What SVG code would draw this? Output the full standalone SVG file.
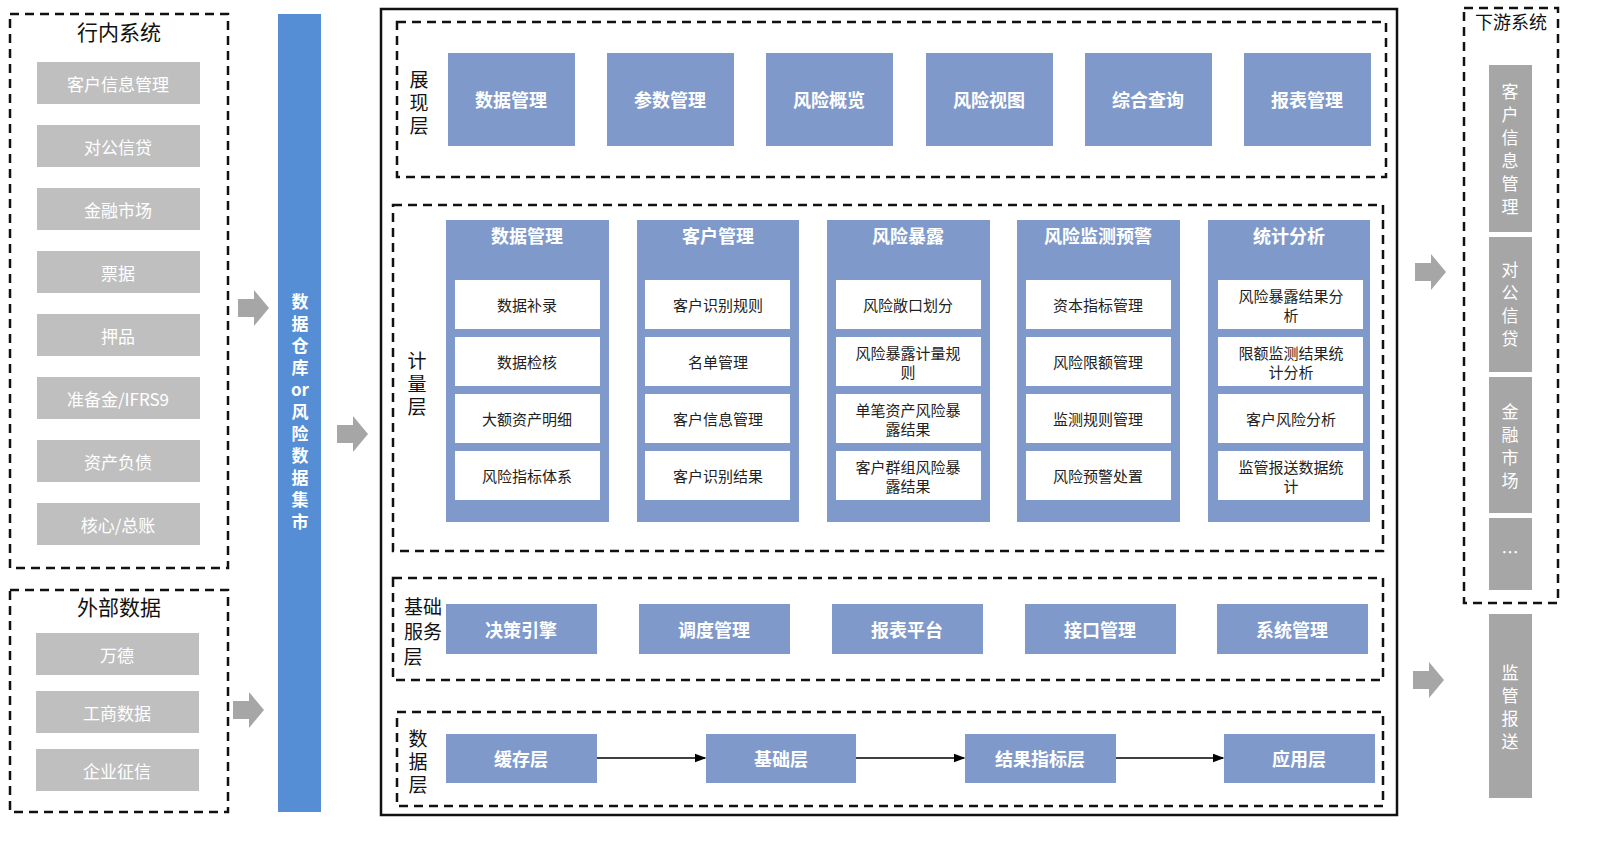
<svg xmlns="http://www.w3.org/2000/svg" width="1600" height="842" viewBox="0 0 1600 842">
<style>
text{font-family:"Noto Sans CJK SC","Liberation Sans",sans-serif;}
.dash{fill:none;stroke:#111;stroke-width:2.5;stroke-dasharray:9,6}
.g{fill:#bfbfbf}
.g2{fill:#a6a6a6}
.b{fill:#7f9aca}
.w{fill:#fff}
.wt{fill:#fff;font-size:17px;text-anchor:middle;dominant-baseline:central}
.vt{fill:#fff;font-size:17px;text-anchor:middle;dominant-baseline:central}
.bt{fill:#fff;font-size:18px;font-weight:bold;text-anchor:middle;dominant-baseline:central}
.kt{fill:#222;font-size:15px;text-anchor:middle;dominant-baseline:central}
.lt{fill:#111;font-size:21px;text-anchor:middle;dominant-baseline:central}
.ll{fill:#111;font-size:19px;text-anchor:middle;dominant-baseline:central}
.arr{fill:#a6a6a6}
</style>
<defs>
<marker id="ah" markerWidth="8" markerHeight="8" refX="7" refY="4" orient="auto"><path d="M0,1 L8,4 L0,7z" fill="#000"/></marker>
<path id="fat" d="M0,-9 H16 V-18 L31,0 L16,18 V9 H0z"/>
</defs>
<rect width="1600" height="842" fill="#fff"/>
<g id="internal">
<rect class="dash" x="10" y="14" width="218" height="554"/>
<text class="lt" x="119" y="31">行内系统</text>
<rect class="g" x="37" y="62" width="163" height="42"/><text class="wt" x="118" y="83">客户信息管理</text>
<rect class="g" x="37" y="125" width="163" height="42"/><text class="wt" x="118" y="146">对公信贷</text>
<rect class="g" x="37" y="188" width="163" height="42"/><text class="wt" x="118" y="209">金融市场</text>
<rect class="g" x="37" y="251" width="163" height="42"/><text class="wt" x="118" y="272">票据</text>
<rect class="g" x="37" y="314" width="163" height="42"/><text class="wt" x="118" y="335">押品</text>
<rect class="g" x="37" y="377" width="163" height="42"/><text class="wt" x="118" y="398">准备金/IFRS9</text>
<rect class="g" x="37" y="440" width="163" height="42"/><text class="wt" x="118" y="461">资产负债</text>
<rect class="g" x="37" y="503" width="163" height="42"/><text class="wt" x="118" y="524">核心/总账</text>
</g>
<g id="external">
<rect class="dash" x="10" y="590" width="218" height="222"/>
<text class="lt" x="119" y="606">外部数据</text>
<rect class="g" x="36" y="633" width="163" height="42"/><text class="wt" x="117" y="654">万德</text>
<rect class="g" x="36" y="691" width="163" height="42"/><text class="wt" x="117" y="712">工商数据</text>
<rect class="g" x="36" y="749" width="163" height="42"/><text class="wt" x="117" y="770">企业征信</text>
</g>
<g id="warehouse">
<rect x="278" y="14" width="43" height="798" fill="#558ed5"/>
<g class="bt" style="font-size:17px">
<text x="300" y="300">数</text><text x="300" y="322">据</text><text x="300" y="344">仓</text><text x="300" y="366">库</text><text x="300" y="388">or</text><text x="300" y="410">风</text><text x="300" y="432">险</text><text x="300" y="454">数</text><text x="300" y="476">据</text><text x="300" y="498">集</text><text x="300" y="520">市</text>
</g>
</g>
<g id="fatarrows" class="arr">
<use href="#fat" x="238" y="308"/>
<use href="#fat" x="233" y="710"/>
<use href="#fat" x="337" y="434"/>
<use href="#fat" x="1415" y="272"/>
<use href="#fat" x="1413" y="680"/>
</g>
<rect x="381" y="9" width="1016" height="806" fill="none" stroke="#111" stroke-width="2.5"/>
<g id="presentation">
<rect class="dash" x="397" y="22" width="989" height="155"/>
<text class="ll" x="419" y="78">展</text><text class="ll" x="419" y="101">现</text><text class="ll" x="419" y="124">层</text>
<rect class="b" x="448" y="53" width="127" height="93"/><text class="bt" x="511" y="99">数据管理</text>
<rect class="b" x="607" y="53" width="127" height="93"/><text class="bt" x="670" y="99">参数管理</text>
<rect class="b" x="766" y="53" width="127" height="93"/><text class="bt" x="829" y="99">风险概览</text>
<rect class="b" x="926" y="53" width="127" height="93"/><text class="bt" x="989" y="99">风险视图</text>
<rect class="b" x="1085" y="53" width="127" height="93"/><text class="bt" x="1148" y="99">综合查询</text>
<rect class="b" x="1244" y="53" width="127" height="93"/><text class="bt" x="1307" y="99">报表管理</text>
</g>
<g id="measure">
<rect class="dash" x="393" y="205" width="990" height="346"/>
<text class="ll" x="417" y="359">计</text><text class="ll" x="417" y="382">量</text><text class="ll" x="417" y="405">层</text>
<rect class="b" x="446" y="220" width="163" height="302"/><text class="bt" x="527" y="235">数据管理</text>
<rect class="b" x="637" y="220" width="162" height="302"/><text class="bt" x="718" y="235">客户管理</text>
<rect class="b" x="827" y="220" width="163" height="302"/><text class="bt" x="908" y="235">风险暴露</text>
<rect class="b" x="1017" y="220" width="163" height="302"/><text class="bt" x="1098" y="235">风险监测预警</text>
<rect class="b" x="1208" y="220" width="162" height="302"/><text class="bt" x="1289" y="235">统计分析</text>
<g>
<rect class="w" x="455" y="280" width="145" height="49"/><text class="kt" x="527" y="304">数据补录</text>
<rect class="w" x="455" y="337" width="145" height="49"/><text class="kt" x="527" y="361">数据检核</text>
<rect class="w" x="455" y="394" width="145" height="49"/><text class="kt" x="527" y="418">大额资产明细</text>
<rect class="w" x="455" y="451" width="145" height="49"/><text class="kt" x="527" y="475">风险指标体系</text>
<rect class="w" x="645" y="280" width="145" height="49"/><text class="kt" x="718" y="304">客户识别规则</text>
<rect class="w" x="645" y="337" width="145" height="49"/><text class="kt" x="718" y="361">名单管理</text>
<rect class="w" x="645" y="394" width="145" height="49"/><text class="kt" x="718" y="418">客户信息管理</text>
<rect class="w" x="645" y="451" width="145" height="49"/><text class="kt" x="718" y="475">客户识别结果</text>
<rect class="w" x="836" y="280" width="145" height="49"/><text class="kt" x="908" y="304">风险敞口划分</text>
<rect class="w" x="836" y="337" width="145" height="49"/><text class="kt" x="908" y="352">风险暴露计量规</text><text class="kt" x="908" y="371">则</text>
<rect class="w" x="836" y="394" width="145" height="49"/><text class="kt" x="908" y="409">单笔资产风险暴</text><text class="kt" x="908" y="428">露结果</text>
<rect class="w" x="836" y="451" width="145" height="49"/><text class="kt" x="908" y="466">客户群组风险暴</text><text class="kt" x="908" y="485">露结果</text>
<rect class="w" x="1026" y="280" width="145" height="49"/><text class="kt" x="1098" y="304">资本指标管理</text>
<rect class="w" x="1026" y="337" width="145" height="49"/><text class="kt" x="1098" y="361">风险限额管理</text>
<rect class="w" x="1026" y="394" width="145" height="49"/><text class="kt" x="1098" y="418">监测规则管理</text>
<rect class="w" x="1026" y="451" width="145" height="49"/><text class="kt" x="1098" y="475">风险预警处置</text>
<rect class="w" x="1218" y="280" width="145" height="49"/><text class="kt" x="1291" y="295">风险暴露结果分</text><text class="kt" x="1291" y="314">析</text>
<rect class="w" x="1218" y="337" width="145" height="49"/><text class="kt" x="1291" y="352">限额监测结果统</text><text class="kt" x="1291" y="371">计分析</text>
<rect class="w" x="1218" y="394" width="145" height="49"/><text class="kt" x="1291" y="418">客户风险分析</text>
<rect class="w" x="1218" y="451" width="145" height="49"/><text class="kt" x="1291" y="466">监管报送数据统</text><text class="kt" x="1291" y="485">计</text>
</g>
</g>
<g id="base">
<rect class="dash" x="393" y="578" width="990" height="102"/>
<text class="ll" x="423" y="605">基础</text><text class="ll" x="423" y="630">服务</text><text class="ll" x="413" y="655">层</text>
<rect class="b" x="446" y="604" width="151" height="50"/><text class="bt" x="521" y="629">决策引擎</text>
<rect class="b" x="639" y="604" width="151" height="50"/><text class="bt" x="714" y="629">调度管理</text>
<rect class="b" x="832" y="604" width="151" height="50"/><text class="bt" x="907" y="629">报表平台</text>
<rect class="b" x="1025" y="604" width="151" height="50"/><text class="bt" x="1100" y="629">接口管理</text>
<rect class="b" x="1217" y="604" width="151" height="50"/><text class="bt" x="1292" y="629">系统管理</text>
</g>
<g id="data">
<rect class="dash" x="397" y="712" width="986" height="94"/>
<text class="ll" x="418" y="737">数</text><text class="ll" x="418" y="760">据</text><text class="ll" x="418" y="783">层</text>
<rect class="b" x="446" y="734" width="151" height="49"/><text class="bt" x="521" y="758">缓存层</text>
<rect class="b" x="706" y="734" width="150" height="49"/><text class="bt" x="781" y="758">基础层</text>
<rect class="b" x="965" y="734" width="151" height="49"/><text class="bt" x="1040" y="758">结果指标层</text>
<rect class="b" x="1224" y="734" width="151" height="49"/><text class="bt" x="1299" y="758">应用层</text>
</g>
<g id="connectors" stroke="#000" stroke-width="1.5" marker-end="url(#ah)">
<line x1="597" y1="758" x2="705" y2="758"/>
<line x1="856" y1="758" x2="964" y2="758"/>
<line x1="1116" y1="758" x2="1223" y2="758"/>
</g>
<g id="downstream">
<rect class="dash" x="1464" y="8" width="94" height="595"/>
<text class="lt" x="1511" y="21" style="font-size:18px">下游系统</text>
<rect class="g2" x="1489" y="65" width="43" height="167"/>
<g class="vt"><text x="1510" y="90">客</text><text x="1510" y="113">户</text><text x="1510" y="136">信</text><text x="1510" y="159">息</text><text x="1510" y="182">管</text><text x="1510" y="205">理</text></g>
<rect class="g2" x="1489" y="237" width="43" height="135"/>
<g class="vt"><text x="1510" y="268">对</text><text x="1510" y="291">公</text><text x="1510" y="314">信</text><text x="1510" y="337">贷</text></g>
<rect class="g2" x="1489" y="377" width="43" height="136"/>
<g class="vt"><text x="1510" y="410">金</text><text x="1510" y="433">融</text><text x="1510" y="456">市</text><text x="1510" y="479">场</text></g>
<rect class="g2" x="1489" y="518" width="43" height="72"/>
<text class="wt" x="1510" y="551">…</text>
</g>
<g id="regulatory">
<rect class="g2" x="1489" y="614" width="43" height="184"/>
<g class="vt"><text x="1510" y="671">监</text><text x="1510" y="694">管</text><text x="1510" y="717">报</text><text x="1510" y="740">送</text></g>
</g>
</svg>
